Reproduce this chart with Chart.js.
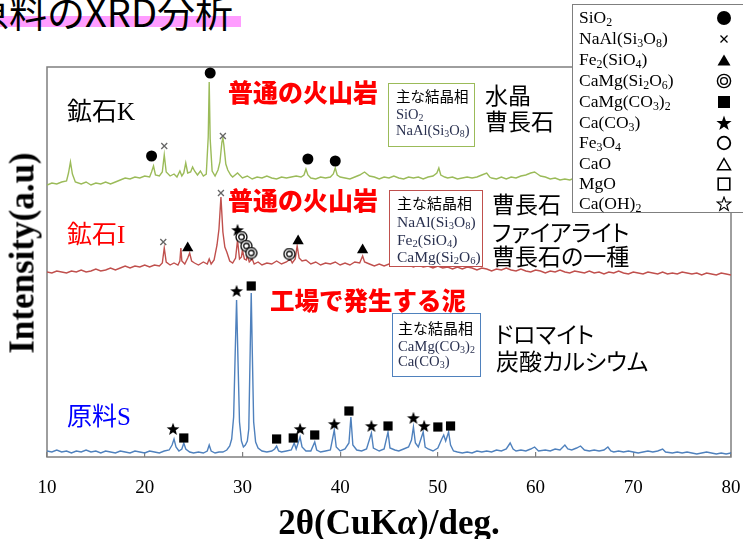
<!DOCTYPE html>
<html><head><meta charset="utf-8">
<script src="https://cdn.jsdelivr.net/npm/chart.js@4.4.1/dist/chart.umd.min.js"></script>
<style>
html,body{margin:0;padding:0;background:#fff;}
#wrap{position:relative;width:743px;height:539px;overflow:hidden;background:#fff;}
#c{position:absolute;left:0;top:0;}
.t{position:absolute;white-space:nowrap;line-height:1;}
.serif{font-family:"Liberation Serif","Noto Sans CJK JP",serif;}
.jp{font-family:"Noto Sans CJK JP",sans-serif;}
.bold{font-weight:900;color:#ff0000;font-family:"Noto Sans CJK JP",sans-serif;}
.palt{font-feature-settings:"palt";}
.box{position:absolute;background:#fff;box-sizing:border-box;}
.fm{color:#2a3150;}
sub{font-size:0.68em;vertical-align:-0.22em;line-height:0;}
#legend{position:absolute;left:572px;top:4px;width:180px;height:209px;border:1.5px solid #7f7f7f;background:#fff;box-sizing:border-box;}
.lg{position:absolute;left:6px;font-size:17.5px;}
.sym{position:absolute;left:143px;width:16px;height:16px;}
</style></head>
<body>
<div id="wrap">
  <div style="position:absolute;left:0;top:16px;width:241px;height:11px;background:#ff9dff;"></div>
  <div class="t jp" style="left:-29px;top:-8px;font-size:38px;color:#000;">原料のXRD分析</div>
  <canvas id="c" width="743" height="539"></canvas>

  <div class="t serif" style="left:67px;top:99px;font-size:25px;color:#000;">鉱石K</div>
  <div class="t serif" style="left:67px;top:222px;font-size:25px;color:#ff0000;">鉱石I</div>
  <div class="t serif" style="left:67px;top:404px;font-size:25px;color:#0000ff;">原料S</div>

  <div class="t bold" style="left:228px;top:79px;font-size:25px;">普通の火山岩</div>
  <div class="t bold" style="left:228px;top:187px;font-size:25px;">普通の火山岩</div>
  <div class="t bold" style="left:270px;top:288px;font-size:24.5px;">工場で発生する泥</div>

  <div class="box" style="left:388px;top:83px;width:87px;height:64px;border:1.5px solid #9bbb59;"></div>
  <div class="t jp" style="left:396px;top:89px;font-size:14.5px;">主な結晶相</div>
  <div class="t serif fm" style="left:396px;top:107px;font-size:14.5px;">SiO<sub>2</sub></div>
  <div class="t serif fm" style="left:396px;top:123px;font-size:14.5px;">NaAl(Si<sub>3</sub>O<sub>8</sub>)</div>

  <div class="box" style="left:389px;top:190px;width:94px;height:77px;border:1.5px solid #c0504d;"></div>
  <div class="t jp" style="left:397px;top:194.5px;font-size:15px;">主な結晶相</div>
  <div class="t serif fm" style="left:397px;top:213.5px;font-size:15.5px;">NaAl(Si<sub>3</sub>O<sub>8</sub>)</div>
  <div class="t serif fm" style="left:397px;top:231.5px;font-size:15.5px;">Fe<sub>2</sub>(SiO<sub>4</sub>)</div>
  <div class="t serif fm" style="left:397px;top:248.5px;font-size:15.5px;">CaMg(Si<sub>2</sub>O<sub>6</sub>)</div>

  <div class="box" style="left:392px;top:313px;width:89px;height:64px;border:1.5px solid #4f81bd;"></div>
  <div class="t jp" style="left:398px;top:320px;font-size:15px;">主な結晶相</div>
  <div class="t serif fm" style="left:398px;top:339px;font-size:14.7px;">CaMg(CO<sub>3</sub>)<sub>2</sub></div>
  <div class="t serif fm" style="left:398px;top:354px;font-size:14.7px;">Ca(CO<sub>3</sub>)</div>

  <div class="t jp palt" style="left:485px;top:83.4px;font-size:23px;">水晶</div>
  <div class="t jp palt" style="left:485px;top:109px;font-size:23px;">曹長石</div>
  <div class="t jp palt" style="left:492px;top:192px;font-size:23px;">曹長石</div>
  <div class="t jp palt" style="left:492px;top:220px;font-size:23px;">ファイアライト</div>
  <div class="t jp palt" style="left:492px;top:244px;font-size:23px;">曹長石の一種</div>
  <div class="t jp palt" style="left:495px;top:322px;font-size:23px;">ドロマイト</div>
  <div class="t jp palt" style="left:496px;top:349px;font-size:23px;">炭酸カルシウム</div>

  <div class="t serif" style="left:22px;top:253px;font-size:35px;font-weight:bold;transform:translate(-50%,-50%) rotate(-90deg);">Intensity(a.u)</div>
  <div class="t serif" style="left:389px;top:522px;font-size:35px;font-weight:bold;transform:translate(-50%,-50%);">2θ(CuK<i>α</i>)/deg.</div>

  <div id="legend">
    <div class="t serif lg" style="top:4px;">SiO<sub>2</sub></div>
    <div class="t serif lg" style="top:25px;">NaAl(Si<sub>3</sub>O<sub>8</sub>)</div>
    <div class="t serif lg" style="top:46px;">Fe<sub>2</sub>(SiO<sub>4</sub>)</div>
    <div class="t serif lg" style="top:67px;">CaMg(Si<sub>2</sub>O<sub>6</sub>)</div>
    <div class="t serif lg" style="top:88px;">CaMg(CO<sub>3</sub>)<sub>2</sub></div>
    <div class="t serif lg" style="top:109px;">Ca(CO<sub>3</sub>)</div>
    <div class="t serif lg" style="top:129px;">Fe<sub>3</sub>O<sub>4</sub></div>
    <div class="t serif lg" style="top:150px;">CaO</div>
    <div class="t serif lg" style="top:170px;">MgO</div>
    <div class="t serif lg" style="top:190px;">Ca(OH)<sub>2</sub></div>
    <svg class="sym" style="top:5px" viewBox="0 0 16 16"><circle cx="8" cy="8" r="7" fill="#000"/></svg>
    <svg class="sym" style="top:26px" viewBox="0 0 16 16"><path d="M4.5 4.5L11.5 11.5M11.5 4.5L4.5 11.5" stroke="#000" stroke-width="1.3"/></svg>
    <svg class="sym" style="top:47px" viewBox="0 0 16 16"><polygon points="8,2.5 14.5,13.5 1.5,13.5" fill="#000"/></svg>
    <svg class="sym" style="top:68px" viewBox="0 0 16 16"><circle cx="8" cy="8" r="6.6" fill="none" stroke="#000" stroke-width="1.4"/><circle cx="8" cy="8" r="3.4" fill="none" stroke="#000" stroke-width="1.4"/></svg>
    <svg class="sym" style="top:89px" viewBox="0 0 16 16"><rect x="2" y="2" width="12" height="12" fill="#000"/></svg>
    <svg class="sym" style="top:110px" viewBox="0 0 16 16"><polygon points="8,0.5 9.9,5.9 15.6,6 11.1,9.5 12.7,15 8,11.7 3.3,15 4.9,9.5 0.4,6 6.1,5.9" fill="#000"/></svg>
    <svg class="sym" style="top:130px" viewBox="0 0 16 16"><circle cx="8" cy="8" r="6.3" fill="none" stroke="#000" stroke-width="1.8"/></svg>
    <svg class="sym" style="top:151px" viewBox="0 0 16 16"><polygon points="8,2.5 14.5,13.8 1.5,13.8" fill="none" stroke="#000" stroke-width="1.5"/></svg>
    <svg class="sym" style="top:171px" viewBox="0 0 16 16"><rect x="2.2" y="2.2" width="11.6" height="11.6" fill="none" stroke="#000" stroke-width="1.6"/></svg>
    <svg class="sym" style="top:191px" viewBox="0 0 16 16"><polygon points="8,1 9.7,5.9 14.9,6 10.8,9.2 12.3,14.3 8,11.3 3.7,14.3 5.2,9.2 1.1,6 6.3,5.9" fill="none" stroke="#000" stroke-width="1.1"/></svg>
  </div>
</div>
<script>
// x tick labels (2θ, deg.)
const xTicks = [10, 20, 30, 40, 50, 60, 70, 80];

// 鉱石K (green) : [2θ, intensity a.u. (stacked display)]
const oreK = [[10,272],[10.5,274],[11,273],[11.5,275],[12,276],[12.2,284],[12.4,295],[12.6,283],[12.9,275],[13.5,273],[14,275],[14.5,272],[15,274],[15.5,273],[16,275],[16.5,273],[17,275],[17.5,277],[18,279],[18.5,278],[19,280],[19.5,279],[20,281],[20.5,280],[20.7,285],[20.9,291],[21.1,282],[21.5,281],[21.8,285],[22,302],[22.2,285],[22.6,281],[23,283],[23.3,280],[23.6,286],[23.8,281],[24,284],[24.2,294],[24.4,284],[24.7,285],[24.9,290],[25.1,286],[25.4,282],[25.7,286],[26,281],[26.3,283],[26.5,320],[26.6,375],[26.7,318],[26.9,286],[27.2,281],[27.5,287],[27.7,295],[27.9,315],[28,319],[28.1,312],[28.3,293],[28.5,287],[28.8,282],[29,280],[29.5,284],[30,279],[30.5,281],[31,278],[31.5,280],[32,279],[32.5,281],[33,279],[33.5,278],[34,280],[34.5,279],[35,280],[35.5,281],[36,280],[36.3,282],[36.5,288],[36.7,282],[37,279],[37.5,278],[38,280],[38.5,279],[39,280],[39.3,283],[39.5,289],[39.7,282],[40,280],[40.5,279],[41,278],[41.5,280],[42,282],[42.5,285],[43,281],[43.5,280],[44,278],[44.5,280],[45,279],[45.5,281],[46,279],[46.5,278],[47,280],[47.5,279],[48,280],[48.5,278],[49,280],[49.5,281],[49.9,284],[50.1,289],[50.3,282],[50.7,280],[51,279],[51.5,280],[52,278],[52.5,279],[53,280],[53.5,279],[54,280],[54.5,282],[55,284],[55.3,280],[55.5,279],[56,278],[56.5,280],[57,278],[57.5,280],[58,279],[58.5,281],[59,282],[59.5,284],[59.9,285],[60.2,283],[60.5,281],[61,280],[61.5,278],[62,279],[62.5,277],[63,278],[63.5,277],[64,279],[64.5,277],[65,278],[65.5,276],[66,278],[66.5,277],[67,279],[67.5,278],[68,280],[68.3,282],[68.6,278],[69,277],[69.5,278],[70,276],[70.5,278],[71,277],[71.5,276],[72,278],[72.5,277],[73,276],[73.5,278],[74,277],[74.5,276],[75,277],[75.5,275],[76,277],[76.5,276],[77,277],[77.5,275],[78,277],[78.5,276],[79,277],[79.5,275],[80,276]];

// 鉱石I (red)
const oreI = [[10,185],[10.5,184],[11,186],[11.5,185],[12,184],[12.5,186],[13,185],[13.5,187],[14,185],[14.5,186],[15,188],[15.5,186],[16,187],[16.5,189],[17,187],[17.5,189],[18,191],[18.5,189],[19,191],[19.5,190],[20,192],[20.5,190],[21,192],[21.5,191],[21.8,194],[22,209],[22.2,195],[22.6,192],[23,194],[23.4,192],[23.6,196],[23.7,209],[23.8,196],[24.1,193],[24.4,199],[24.6,204],[24.8,196],[25.1,194],[25.5,192],[26,195],[26.4,193],[26.6,198],[26.8,193],[27.1,197],[27.4,212],[27.6,228],[27.8,260],[28,225],[28.2,210],[28.4,205],[28.7,196],[29,194],[29.3,199],[29.5,217],[29.7,198],[29.9,200],[30,207],[30.2,198],[30.4,197],[30.5,202],[30.7,195],[31,198],[31.2,193],[31.6,195],[32,192],[32.5,194],[33,193],[33.5,196],[34,193],[34.5,195],[34.9,198],[35.1,194],[35.4,198],[35.6,211],[35.8,199],[36.1,196],[36.5,197],[37,193],[37.5,195],[38,192],[38.5,194],[39,193],[39.5,195],[40,192],[40.5,194],[41,192],[41.5,195],[42,194],[42.3,201],[42.5,195],[43,193],[43.5,191],[44,193],[44.5,191],[45,193],[45.5,192],[46,194],[46.5,191],[47,192],[47.5,190],[48,192],[48.5,190],[49,191],[49.5,189],[50,191],[50.5,189],[51,190],[51.5,188],[52,190],[52.5,188],[53,190],[53.5,189],[54,187],[54.5,189],[55,188],[55.5,186],[56,188],[56.5,187],[57,189],[57.5,187],[58,186],[58.5,188],[59,186],[59.5,185],[60,187],[60.5,186],[61,184],[61.5,186],[62,185],[62.5,187],[63,185],[63.5,184],[64,186],[64.5,185],[65,184],[65.5,186],[66,184],[66.5,185],[67,183],[67.5,185],[68,184],[68.5,186],[69,184],[69.5,183],[70,185],[70.5,184],[71,183],[71.5,185],[72,184],[72.5,183],[73,185],[73.5,183],[74,184],[74.5,183],[75,185],[75.5,184],[76,183],[76.5,184],[77,182],[77.5,184],[78,183],[78.5,182],[79,184],[79.5,183],[80,182]];

// 原料S (blue)
const rawS = [[10,6],[10.5,5],[11,7],[11.5,5],[12,6],[12.5,4],[13,6],[13.5,5],[14,7],[14.5,5],[15,6],[15.5,4],[16,6],[16.5,5],[17,4],[17.5,6],[18,5],[18.5,4],[19,6],[19.5,5],[20,4],[20.5,6],[21,5],[21.5,4],[22,6],[22.5,7],[22.8,12],[23,18],[23.2,10],[23.5,6],[23.8,8],[24,14],[24.2,8],[24.6,5],[25,4],[25.5,5],[26,4],[26.4,6],[26.6,12],[26.8,6],[27.2,4],[27.6,5],[28,5],[28.4,7],[28.7,11],[28.9,18],[29.1,40],[29.25,100],[29.4,157],[29.55,95],[29.7,35],[29.9,16],[30.1,10],[30.3,12],[30.5,16],[30.65,28],[30.8,110],[30.9,164],[31,110],[31.15,35],[31.35,15],[31.6,9],[32,6],[32.5,5],[33,6],[33.3,8],[33.5,11],[33.7,6],[34,5],[34.5,6],[35,7],[35.3,14],[35.5,8],[35.9,20],[36.1,10],[36.5,6],[37,6],[37.4,15],[37.6,7],[38,5],[38.5,6],[39,7],[39.4,27],[39.6,10],[40,6],[40.5,8],[40.9,14],[41.1,40],[41.3,12],[41.7,7],[42.2,6],[42.7,8],[43.2,24],[43.4,9],[44,6],[44.5,8],[44.9,25],[45.1,9],[45.6,7],[46,6],[46.5,8],[47,10],[47.3,17],[47.5,30],[47.7,14],[48,10],[48.5,25],[48.7,10],[49,8],[49.5,6],[50,9],[50.4,18],[50.6,22],[50.8,16],[51.1,25],[51.3,12],[51.6,6],[52,5],[52.5,4],[53,5],[53.5,4],[54,6],[54.5,5],[55,6],[55.5,5],[56,7],[56.5,6],[57,8],[57.4,14],[57.7,8],[58,6],[58.5,7],[59,6],[59.5,8],[59.9,10],[60.3,6],[61,7],[61.5,6],[62,8],[62.5,7],[63,12],[63.3,8],[63.7,7],[64.2,9],[64.6,11],[65,7],[65.5,6],[66,7],[66.5,6],[67,7],[67.4,10],[67.7,6],[68,5],[68.5,6],[69,5],[69.5,6],[70,5],[70.5,4],[71,5],[71.5,6],[72,5],[72.5,6],[73,8],[73.3,5],[74,4],[74.5,5],[75,4],[75.5,5],[76,4],[76.5,3],[77,4],[77.5,5],[78,4],[78.5,3],[79,4],[79.5,3],[80,4]];

// peak identification marks [2θ, a.u.]
const markSiO2     = [[20.7,301],[26.7,384],[36.7,298],[39.5,296]];
const markAlbite   = [[22.0,311],[28.0,321],[21.9,215],[27.8,264]];
const markFayalite = [[24.4,209],[35.7,216],[42.3,207]];
const markDiopside = [[29.9,220],[30.4,211],[30.9,204],[34.8,203]];
const markCalcite  = [[29.5,227],[22.9,28],[29.4,166],[35.9,28],[39.4,33],[43.2,31],[47.5,39],[48.6,31]];
const markDolomite = [[24.0,19],[30.9,171],[33.5,18],[35.2,19],[37.4,22],[40.9,46],[44.9,31],[50.0,30],[51.3,31]];

function starImg(size){
  const c=document.createElement('canvas');c.width=c.height=size;
  const g=c.getContext('2d');const cx=size/2,cy=size/2+0.5,R=size/2-0.3,r=R*0.42;
  g.beginPath();
  for(let i=0;i<10;i++){const a=-Math.PI/2+i*Math.PI/5;const rr=i%2?r:R;g.lineTo(cx+rr*Math.cos(a),cy+rr*Math.sin(a));}
  g.closePath();g.fillStyle='#000';g.fill();return c;
}
function dblCircleImg(size){
  const c=document.createElement('canvas');c.width=c.height=size;
  const g=c.getContext('2d');const m=size/2;
  g.lineWidth=1.3;g.strokeStyle='#000';g.fillStyle='#fff';
  g.beginPath();g.arc(m,m,m-1,0,Math.PI*2);g.fill();g.stroke();
  g.beginPath();g.arc(m,m,(m-1)*0.5,0,Math.PI*2);g.stroke();
  return c;
}
const STAR=starImg(14), DBL=dblCircleImg(13);

const frame={id:'frame',beforeDatasetsDraw(chart){
  const {ctx,chartArea:a}=chart;ctx.save();ctx.strokeStyle='#7f7f7f';ctx.lineWidth=1.5;
  ctx.strokeRect(a.left,a.top,a.right-a.left,a.bottom-a.top);ctx.restore();}};

const lineDs=(label,data,color)=>({label,data,borderColor:color,borderWidth:1.4,pointRadius:0,tension:0,fill:false,order:2});
const markDs=(label,data,extra)=>Object.assign({label,data,type:'scatter',showLine:false,order:1,backgroundColor:'#000',borderColor:'#000',borderWidth:0},extra);

new Chart(document.getElementById('c'),{
  type:'line',
  data:{datasets:[
    lineDs('鉱石K',oreK,'#9bbb59'),
    lineDs('鉱石I',oreI,'#c0504d'),
    lineDs('原料S',rawS,'#4f81bd'),
    markDs('SiO2',markSiO2,{pointStyle:'circle',pointRadius:5.5}),
    markDs('NaAl(Si3O8)',markAlbite,{pointStyle:'crossRot',pointRadius:4.2,borderColor:'#666',borderWidth:1.3}),
    markDs('Fe2(SiO4)',markFayalite,{pointStyle:'triangle',pointRadius:6.5}),
    markDs('CaMg(Si2O6)',markDiopside,{pointStyle:DBL,pointRadius:6}),
    markDs('Ca(CO3)',markCalcite,{pointStyle:STAR,pointRadius:7}),
    markDs('CaMg(CO3)2',markDolomite,{pointStyle:'rect',pointRadius:6.5})
  ]},
  options:{
    responsive:false,animation:false,devicePixelRatio:1,events:[],
    layout:{padding:{top:67,right:12,left:0,bottom:0}},
    plugins:{legend:{display:false},tooltip:{enabled:false}},
    scales:{
      x:{type:'linear',min:10,max:80,
        afterFit:s=>{s.height=82;s.paddingRight=10;s.paddingLeft=10;},
        afterBuildTicks:s=>{s.ticks=xTicks.map(v=>({value:v}));},
        ticks:{autoSkip:false,maxRotation:0,color:'#000',padding:25,font:{family:'Liberation Serif',size:19}},
        grid:{drawOnChartArea:false,drawTicks:true,tickLength:-5,color:'#7f7f7f',lineWidth:1.2},
        border:{display:false}},
      y:{min:0,max:390,
        afterFit:s=>{s.width=47;},
        ticks:{display:false},grid:{display:false},border:{display:false}}
    }
  },
  plugins:[frame]
});
</script>
</body></html>
